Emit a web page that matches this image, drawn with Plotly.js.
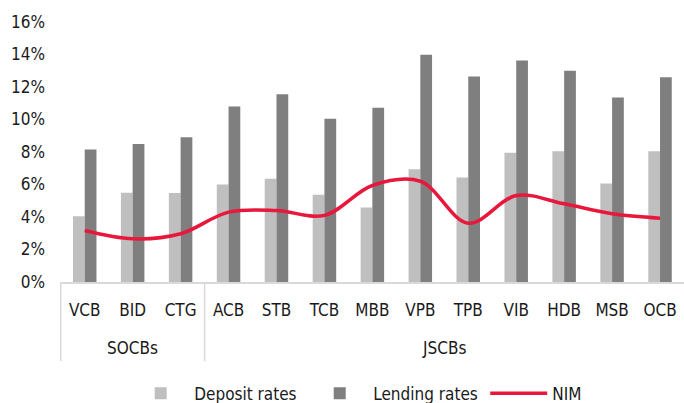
<!DOCTYPE html>
<html>
<head>
<meta charset="utf-8">
<script src="https://cdn.plot.ly/plotly-3.0.1.min.js"></script>
<style>
  html, body { margin: 0; padding: 0; background: #fff; }
  #chart { width: 684px; height: 403px; }
</style>
</head>
<body>
<div id="chart"></div>
<script>
let groups = ["SOCBs", "SOCBs", "SOCBs",
  "JSCBs", "JSCBs", "JSCBs", "JSCBs", "JSCBs", "JSCBs", "JSCBs", "JSCBs", "JSCBs", "JSCBs"];
let banks = ["VCB", "BID", "CTG", "ACB", "STB", "TCB", "MBB", "VPB", "TPB", "VIB", "HDB", "MSB", "OCB"];

let deposit = [4.05, 5.5, 5.47, 6.0, 6.35, 5.37, 4.58, 6.94, 6.43, 7.95, 8.05, 6.06, 8.05];
let lending = [8.15, 8.5, 8.9, 10.8, 11.56, 10.04, 10.72, 13.98, 12.65, 13.63, 13.0, 11.35, 12.6];
let nim = [3.17, 2.66, 2.97, 4.3, 4.4, 4.1, 5.94, 6.2, 3.62, 5.32, 4.81, 4.2, 3.93];

let font = "'DejaVu Sans Condensed', 'Liberation Sans Narrow', Arial, sans-serif";

// group spans (first/last index) for the second row of labels
let spans = [];
groups.forEach((g, i) => {
  if (i == 0 || groups[i - 1] != g) spans.push({name: g, start: i, end: i});
  else spans[spans.length - 1].end = i;
});

var traces = [
  {
    x: banks, y: deposit.map(v => v / 100),
    name: "Deposit rates", type: "bar",
    marker: {color: "#bfbfbf"}
  },
  {
    x: banks, y: lending.map(v => v / 100),
    name: "Lending rates", type: "bar",
    marker: {color: "#7f7f7f"}
  },
  {
    x: banks, y: nim.map(v => v / 100),
    name: "NIM", type: "scatter", mode: "lines",
    line: {color: "#e8183c", width: 3.5, shape: "spline", smoothing: 1}
  }
];

var layout = {
  width: 684,
  height: 403,
  margin: {l: 60, r: 0, t: 22, b: 121},
  paper_bgcolor: "#fff",
  plot_bgcolor: "#fff",
  font: {family: font, size: 17, color: "#1a1a1a"},
  barmode: "group",
  bargap: 0.51,
  bargroupgap: 0,
  showlegend: true,
  legend: {
    orientation: "h",
    xref: "container", yref: "container",
    x: 0.186, xanchor: "left",
    y: 0.068, yanchor: "top",
    font: {family: font, size: 17, color: "#1a1a1a"},
    itemwidth: 57,
    entrywidth: 107,
    tracegroupgap: 0
  },
  xaxis: {
    type: "category",
    showline: true,
    linecolor: "#d9d9d9",
    linewidth: 1.5,
    ticks: "",
    ticklabelstandoff: 12,
    tickfont: {family: font, size: 17, color: "#1a1a1a"}
  },
  yaxis: {
    range: [0, 0.16],
    dtick: 0.02,
    tickformat: ".0%",
    showgrid: false,
    zeroline: false,
    showline: false,
    ticklabelstandoff: 14,
    tickfont: {family: font, size: 17, color: "#1a1a1a"}
  },
  shapes: spans.map(s => ({
    type: "line", xref: "x", yref: "paper",
    x0: s.start - 0.5, x1: s.start - 0.5, y0: 0, y1: -0.304,
    line: {color: "#d9d9d9", width: 1.5}
  })),
  annotations: spans.map(s => ({
    text: s.name, xref: "x", yref: "paper",
    x: (s.start + s.end) / 2, y: -0.254,
    xanchor: "center", yanchor: "middle", showarrow: false,
    font: {family: font, size: 17, color: "#1a1a1a"}
  }))
};

Plotly.newPlot("chart", traces, layout, {displayModeBar: false});
</script>
</body>
</html>
